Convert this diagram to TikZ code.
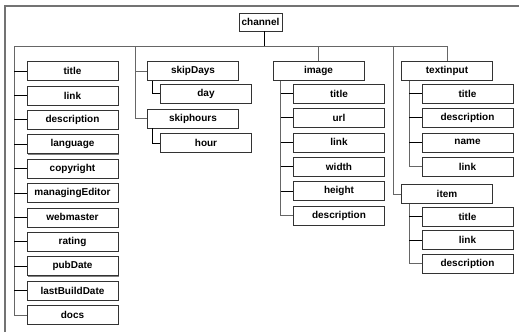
\documentclass[tikz,border=0pt]{standalone}
\usepackage{fontspec}
\setmainfont{Liberation Sans}
\usetikzlibrary{shadows}
\begin{document}
\begin{tikzpicture}[x=1pt,y=-1pt,
  bx/.style={draw=black!80, line width=0.6pt, fill=white, minimum width=91pt, minimum height=19pt,
    inner sep=0pt, font=\fontsize{10}{12}\selectfont\bfseries,
    drop shadow={shadow xshift=0.8pt, shadow yshift=-0.8pt, fill=black!50, opacity=1}},
  conn/.style={draw=black!60, line width=0.8pt},
  br/.style={draw=black, line width=1pt},
  frame/.style={draw=black!55, line width=1.4pt}]
\useasboundingbox (0,0) rectangle (519,332);
\draw[frame] (5,332) -- (5,6) -- (519,6);
% root
\node[bx, minimum width=43pt, minimum height=18pt] (channel) at (260.5,22) {channel};
% left column
\foreach \n/\t [count=\i from 0] in {ltitle/title,llink/link,ldesc/description,llang/language,lcopy/copyright,lman/managingEditor,lweb/webmaster,lrat/rating,lpub/pubDate,llast/lastBuildDate,ldocs/docs}
  \node[bx] (\n) at (72.5,{71+24.4*\i}) {\t};
% skip
\node[bx] (skipDays) at (193,71) {skipDays};
\node[bx] (day) at (206,93.5) {day};
\node[bx] (skiphours) at (193,118.5) {skiphours};
\node[bx] (hour) at (206,143) {hour};
% image
\node[bx] (image) at (318.5,71) {image};
\foreach \n/\t [count=\i from 1] in {ititle/title,iurl/url,ilink/link,iwidth/width,iheight/height,idesc/description}
  \node[bx] (\n) at (339,{69.1+24.4*\i}) {\t};
% textinput
\node[bx] (textinput) at (447,71) {textinput};
\foreach \n/\t [count=\i from 1] in {ttitle/title,tdesc/description,tname/name,tlink/link}
  \node[bx] (\n) at (467.5,{69.1+24.4*\i}) {\t};
% item
\node[bx] (item) at (447,194) {item};
\foreach \n/\t [count=\i from 1] in {mtitle/title,mlink/link,mdesc/description}
  \node[bx] (\n) at (467.5,{193+23.5*\i}) {\t};
% bus
\coordinate (busL) at (14,46);
\coordinate (busR) at (447,46);
\coordinate (sk) at (135,46);
\coordinate (it) at (393,46);
\draw[conn] (busL) -- (busR);
\draw[br] ([xshift=3.5pt]channel.south) -- ([xshift=3.5pt]channel.south |- busL);
% left column connectors
\draw[conn] (busL) |- (ldocs.west);
\foreach \n in {ltitle,llink,ldesc,llang,lcopy,lman,lweb,lrat,lpub,llast}
  \draw[br] (busL |- \n.west) -- (\n.west);
% skip
\draw[conn] (sk) |- (skiphours.west);
\draw[conn] (sk |- skipDays.west) -- (skipDays.west);
\draw[br] ([xshift=5pt]skipDays.south west) |- (day.west);
\draw[br] ([xshift=5pt]skiphours.south west) |- (hour.west);
% image
\draw[conn] (image.north) -- (image.north |- busL);
\draw[conn] ([xshift=8pt]image.south west) |- (idesc.west);
\foreach \n in {ititle,iurl,ilink,iwidth,iheight}
  \draw[br] ([xshift=8pt]image.south west |- \n.west) -- (\n.west);
% textinput
\draw[conn] (textinput.north) -- (busR);
\draw[conn] ([xshift=8pt]textinput.south west) |- (tlink.west);
\foreach \n in {ttitle,tdesc,tname}
  \draw[br] ([xshift=8pt]textinput.south west |- \n.west) -- (\n.west);
% item
\draw[conn] (it) |- (item.west);
\draw[conn] ([xshift=8pt]item.south west) |- (mdesc.west);
\foreach \n in {mtitle,mlink}
  \draw[br] ([xshift=8pt]item.south west |- \n.west) -- (\n.west);
\end{tikzpicture}
\end{document}
